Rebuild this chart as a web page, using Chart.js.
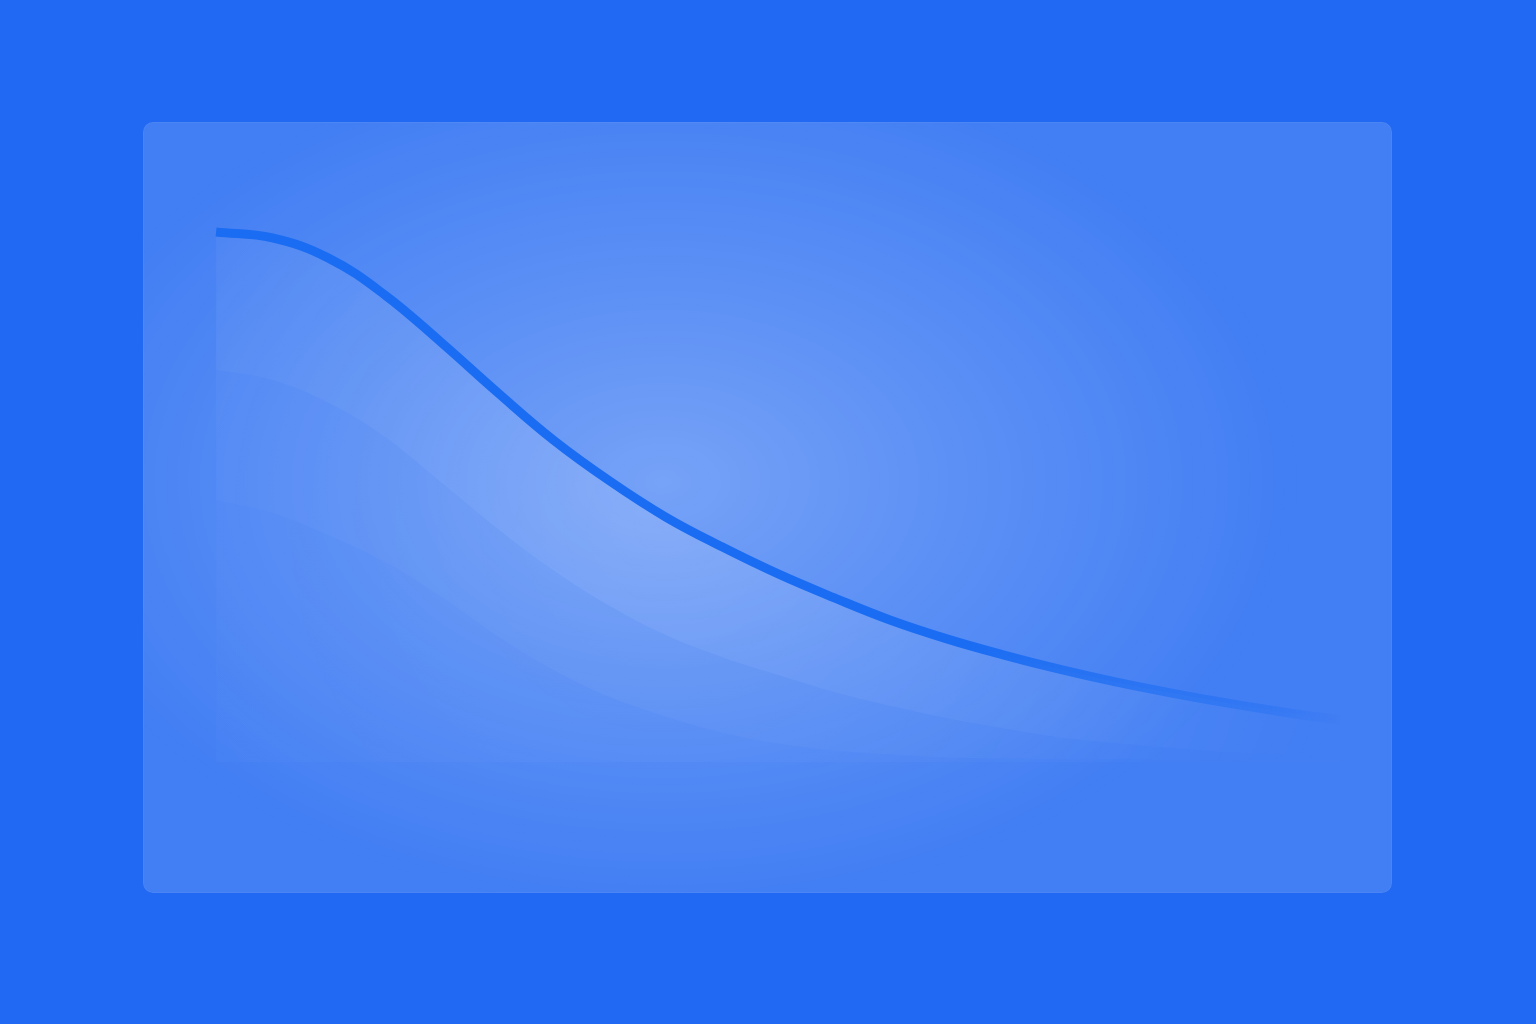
<!DOCTYPE html>
<html>
<head>
<meta charset="utf-8">
<script src="https://cdn.jsdelivr.net/npm/chart.js@4.4.1/dist/chart.umd.min.js"></script>
<style>
  html, body { margin: 0; padding: 0; }
  body {
    width: 1536px; height: 1024px; overflow: hidden;
    background: #2168f2;
    position: relative;
  }
  #panel {
    position: absolute; left: 143px; top: 122px; width: 1249px; height: 771px;
    border-radius: 10px;
    background:
      radial-gradient(ellipse 640px 430px at 520px 360px, rgba(255,255,255,0.28) 0%, rgba(255,255,255,0.13) 50%, rgba(255,255,255,0) 100%),
      rgba(255,255,255,0.15);
    box-shadow: inset 0 0 0 1px rgba(255,255,255,0.05);
    overflow: hidden;
  }
  #chartWrap { position: absolute; inset: 0; }
</style>
</head>
<body>
<div id="panel">
  <div id="chartWrap"><canvas id="curve"></canvas></div>
</div>
<script>
// Curva principal + dos bandas suaves por debajo
const X_POINTS  = [0, 0.5, 1, 1.5, 2, 2.5, 3, 3.5, 4, 4.5, 5, 5.5, 6, 6.5, 7, 7.5, 8, 8.5, 9, 9.5, 10];
const LINE_MAIN = [99.7, 98.6, 94.8, 87.9, 79.0, 69.6, 60.6, 52.9, 46.1, 40.5, 35.4,
                   30.9, 26.7, 23.2, 20.2, 17.5, 15.1, 13.0, 11.1, 9.4, 7.9];
const BAND_MID  = [73.8, 71.9, 67.6, 61.2, 52.7, 44.0, 36.1, 29.4, 23.9, 19.8, 16.4,
                   13.2, 10.6, 8.3, 6.4, 4.7, 3.6, 2.7, 1.9, 1.5, 1.1];
const BAND_LOW  = [49.3, 46.9, 42.7, 37.7, 31.1, 23.8, 17.4, 12.3, 8.6, 5.6, 3.5,
                   2.2, 1.5, 0.9, 0.7, 0.6, 0.6, 0.4, 0.4, 0.4, 0.4];

// rango de ejes (la zona del grafico ocupa todo el panel)
const X_MIN = -0.65, X_MAX = 10.46;
const Y_MIN = -24.6, Y_MAX = 120.4;

const LINE_BLUE = "rgba(26, 108, 242, 1)";

const pts = (ys) => X_POINTS.map((x, i) => ({ x, y: ys[i] }));

// brillo radial para los rellenos
function glowFill(inner, outer) {
  return (ctx) => {
    const { chart } = ctx;
    const a = chart.chartArea;
    if (!a) return `rgba(255,255,255,${outer})`;
    const cx = a.left + a.width * 0.42;
    const cy = a.top + a.height * 0.52;
    const g = chart.ctx.createRadialGradient(cx, cy, 0, cx, cy, a.width * 0.56);
    g.addColorStop(0, `rgba(255,255,255,${inner})`);
    g.addColorStop(0.6, `rgba(255,255,255,${inner * 0.5})`);
    g.addColorStop(1, `rgba(255,255,255,${outer})`);
    return g;
  };
}

function lineStroke(ctx) {
  const { chart } = ctx;
  const a = chart.chartArea;
  if (!a) return LINE_BLUE;
  const g = chart.ctx.createLinearGradient(a.left, 0, a.right, 0);
  g.addColorStop(0, LINE_BLUE);
  g.addColorStop(0.66, LINE_BLUE);
  g.addColorStop(0.9, "rgba(26, 108, 242, 0.35)");
  g.addColorStop(0.96, "rgba(26, 108, 242, 0)");
  return g;
}

function baselineColor(ctx) {
  if (ctx.tick && ctx.tick.value !== 0) return "rgba(0,0,0,0)";
  const { chart } = ctx;
  const a = chart.chartArea;
  if (!a) return "rgba(255,255,255,0.3)";
  const g = chart.ctx.createLinearGradient(a.left, 0, a.right, 0);
  g.addColorStop(0, "rgba(255,255,255,0.1)");
  g.addColorStop(0.5, "rgba(255,255,255,0.42)");
  g.addColorStop(1, "rgba(255,255,255,0.1)");
  return g;
}

new Chart(document.getElementById("curve"), {
  type: "line",
  data: {
    datasets: [
      {
        data: pts(LINE_MAIN),
        borderColor: lineStroke,
        borderWidth: 9,
        borderCapStyle: "butt",
        backgroundColor: glowFill(0.14, 0),
        fill: "+1",
        pointRadius: 0,
        tension: 0.4
      },
      {
        data: pts(BAND_MID),
        borderWidth: 0,
        borderColor: "rgba(0,0,0,0)",
        backgroundColor: glowFill(0.08, 0),
        fill: "+1",
        pointRadius: 0,
        tension: 0.4
      },
      {
        data: pts(BAND_LOW),
        borderWidth: 0,
        borderColor: "rgba(0,0,0,0)",
        backgroundColor: glowFill(0.04, 0.01),
        fill: "origin",
        pointRadius: 0,
        tension: 0.4
      }
    ]
  },
  options: {
    responsive: true,
    maintainAspectRatio: false,
    animation: false,
    layout: { padding: 0 },
    plugins: { legend: { display: false }, tooltip: { enabled: false } },
    scales: {
      x: { type: "linear", min: X_MIN, max: X_MAX, display: false },
      y: {
        min: Y_MIN, max: Y_MAX,
        ticks: { display: false, stepSize: 5 },
        border: { display: false },
        grid: { color: baselineColor, lineWidth: 2, drawTicks: false }
      }
    }
  }
});
</script>
</body>
</html>
